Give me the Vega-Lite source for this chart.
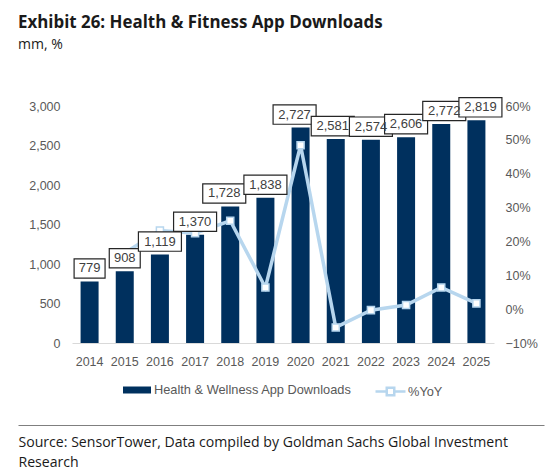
{
"$schema":"https://vega.github.io/schema/vega-lite/v6.json",
"width":422,"height":237,
"autosize":"none",
"padding":{"left":72,"top":106,"right":66,"bottom":127},
"background":"white",
"title":{"text":"Exhibit 26: Health & Fitness App Downloads","subtitle":"mm, %","anchor":"start","frame":"group","dx":-54,"offset":42,"font":"Open Sans","fontSize":16.9,"fontWeight":"bold","color":"#1a1a1a","subtitleFont":"Open Sans","subtitleFontSize":14,"subtitleColor":"#1a1a1a","subtitlePadding":6},
"config":{"view":{"stroke":null},"axis":{"labelFont":"Liberation Sans","labelFontSize":12.5,"labelColor":"#595959","grid":false,"ticks":false}},
"data":{"values":[
{"year":"2014","downloads":779},
{"year":"2015","downloads":908,"yoy":0.166},
{"year":"2016","downloads":1119,"yoy":0.232},
{"year":"2017","downloads":1370,"yoy":0.224},
{"year":"2018","downloads":1728,"yoy":0.261},
{"year":"2019","downloads":1838,"yoy":0.064},
{"year":"2020","downloads":2727,"yoy":0.484},
{"year":"2021","downloads":2581,"yoy":-0.054},
{"year":"2022","downloads":2574,"yoy":-0.003},
{"year":"2023","downloads":2606,"yoy":0.012},
{"year":"2024","downloads":2772,"yoy":0.064},
{"year":"2025","downloads":2819,"yoy":0.017}
]},
"encoding":{"x":{"field":"year","type":"nominal","scale":{"paddingInner":0.5,"paddingOuter":0.25},
"axis":{"title":["Source: SensorTower, Data compiled by Goldman Sachs Global Investment","Research"],"titleFont":"Open Sans","titleFontSize":14.1,"titleFontWeight":"normal","titleColor":"#1a1a1a","titleAlign":"left","titleBaseline":"top","titleAnchor":"start","titleX":-54,"titleY":92,"titleLineHeight":20,"labelAngle":0,"labelPadding":12,"domainColor":"#d9d9d9","domainWidth":1}}},
"layer":[
{"mark":{"type":"bar","width":18},
 "encoding":{"y":{"field":"downloads","type":"quantitative","scale":{"domain":[0,3000],"nice":false},
   "axis":{"title":null,"domain":false,"values":[0,500,1000,1500,2000,2500,3000],"labelPadding":12,"format":",d"}},
   "color":{"datum":"Health & Wellness App Downloads","scale":{"range":["#00305e"]},
   "legend":{"title":null,"orient":"none","legendX":50,"legendY":269,"symbolType":"M-1,-0.25H1V0.25H-1Z","symbolSize":784,"labelFont":"Liberation Sans","labelFontSize":12.8,"labelColor":"#595959","labelOffset":2,"labelLimit":300}}}},
{"transform":[{"filter":"datum.yoy!=null"}],"mark":{"type":"line","strokeWidth":3.5,"color":"#b7d6ee"},
 "encoding":{"y":{"field":"yoy","type":"quantitative","scale":{"domain":[-0.1,0.6],"nice":false},
   "axis":{"title":null,"orient":"right","domain":false,"format":".0%","values":[-0.1,0,0.1,0.2,0.3,0.4,0.5,0.6],"labelPadding":11}},
   "stroke":{"datum":"%YoY","scale":{"range":["#b7d6ee"]},
   "legend":{"title":null,"orient":"none","legendX":302,"legendY":269,"symbolType":"M-1,0H-0.25M0.25,0H1M-0.25,-0.25H0.25V0.25H-0.25Z","symbolSize":900,"symbolStrokeWidth":2.5,"symbolStrokeColor":"#b7d6ee","symbolFillColor":"#ffffff","labelFont":"Liberation Sans","labelFontSize":12.8,"labelColor":"#595959","labelOffset":1}}}},
{"transform":[{"filter":"datum.yoy!=null"}],"mark":{"type":"point","shape":"square","size":50,"filled":true,"fill":"#ffffff","stroke":"#b7d6ee","strokeWidth":1.5,"opacity":1},
 "encoding":{"y":{"field":"yoy","type":"quantitative","scale":{"domain":[-0.1,0.6],"nice":false},"axis":null}}},
{"mark":{"type":"point","filled":true,"fill":"#ffffff","stroke":"#262626","strokeWidth":1.2,"opacity":1,"size":1850,"yOffset":-13,
  "shape":{"expr":"datum.downloads<1000?'M-0.72,-0.45H0.72V0.45H-0.72Z':'M-1,-0.45H1V0.45H-1Z'"},
  "xOffset":{"expr":"datum.year=='2018'||datum.year=='2020'?-6:datum.year=='2021'?-3:datum.year=='2024'?3:datum.year=='2025'?4:0"}},
 "encoding":{"y":{"field":"downloads","type":"quantitative","scale":{"domain":[-1033,3000],"range":[318.6,0],"nice":false},
   "axis":{"title":null,"orient":"left","offset":-472,"values":[-1033],"labels":false,"domain":false,"ticks":true,"tickSize":526,"tickColor":"#7f7f7f","tickWidth":1}}}},
{"mark":{"type":"text","font":"Liberation Sans","fontSize":13,"color":"#404040","baseline":"middle","align":"center","yOffset":-13,
  "xOffset":{"expr":"datum.year=='2018'||datum.year=='2020'?-6:datum.year=='2021'?-3:datum.year=='2024'?3:datum.year=='2025'?4:0"}},
 "encoding":{"y":{"field":"downloads","type":"quantitative","scale":{"domain":[0,3000],"nice":false},"axis":null},
   "text":{"field":"downloads","type":"quantitative","format":","}}}
],
"resolve":{"scale":{"y":"independent"},"axis":{"y":"independent"}}
}
